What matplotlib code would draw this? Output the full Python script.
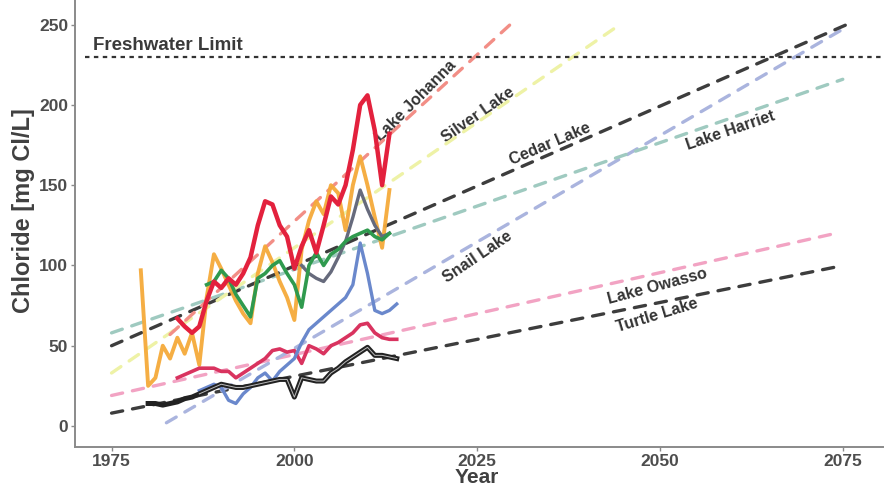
import matplotlib
matplotlib.use("Agg")
import matplotlib.pyplot as plt
import numpy as np

plt.rcParams['font.family'] = ['Liberation Sans', 'DejaVu Sans']

# ---------------- data ----------------
johanna_years = list(range(1984, 2014))
johanna_vals = [67, 62, 58, 62, 78, 90, 86, 92, 88, 95, 105, 125, 140, 138, 125, 118,
                98, 112, 122, 108, 125, 143, 138, 150, 172, 200, 206, 184, 150, 182]

silver_years = list(range(1979, 2014))
silver_vals = [97, 25, 30, 50, 42, 55, 45, 58, 38, 80, 107, 98, 88, 78, 70, 64, 95, 112,
               102, 90, 80, 66, 110, 128, 140, 132, 150, 145, 122, 150, 168, 150, 130, 111, 147]

harriet_years = list(range(1988, 2014))
harriet_vals = [88, 90, 97, 92, 82, 75, 68, 92, 95, 100, 103, 95, 88, 74, 100, 108, 100,
                107, 110, 115, 118, 120, 122, 118, 116, 120]

cedar_years = list(range(2001, 2014))
cedar_vals = [100, 95, 92, 90, 96, 105, 115, 130, 147, 135, 125, 118, 120]

snail_years = list(range(1987, 2015))
snail_vals = [22, 24, 26, 24, 16, 14, 20, 24, 30, 33, 28, 34, 38, 42, 52, 60, 64, 68, 72,
              76, 80, 88, 114, 95, 72, 70, 72, 76]

owasso_years = list(range(1984, 2015))
owasso_vals = [30, 32, 34, 36, 36, 36, 34, 34, 30, 33, 36, 39, 42, 47, 48, 46, 47, 39, 50,
               48, 45, 50, 52, 55, 58, 63, 64, 58, 55, 54, 54]

turtle_years = list(range(1980, 2015))
turtle_vals = [14, 14, 13, 14, 15, 17, 18, 20, 22, 24, 26, 25, 24, 24, 25, 26, 27, 28, 29,
               29, 18, 30, 29, 28, 28, 33, 36, 40, 43, 46, 49, 44, 44, 43, 42]

# trend lines (start year, start value, end year, end value)
trend_names = ['Turtle Lake', 'Lake Owasso', 'Snail Lake', 'Lake Harriet', 'Cedar Lake',
               'Silver Lake', 'Lake Johanna']
trend_x0 = [1975, 1975, 1982.5, 1975, 1975, 1975, 1983]
trend_y0 = [8, 19, 2, 58, 50, 33, 57]
trend_x1 = [2074, 2074, 2075.3, 2075, 2075.5, 2044.5, 2029.5]
trend_y1 = [99, 120, 248, 216, 250, 250, 250]

freshwater_limit = 230

x_ticks = [1975, 2000, 2025, 2050, 2075]
y_ticks = [0, 50, 100, 150, 200, 250]

# label placement (year, value, rotation)
label_texts = ['Lake Johanna', 'Silver Lake', 'Cedar Lake', 'Lake Harriet', 'Snail Lake',
               'Lake Owasso', 'Turtle Lake']
label_x = [2016.6, 2025.1, 2034.9, 2059.6, 2025.0, 2049.6, 2049.6]
label_y = [202.5, 193.8, 176, 184, 105, 87, 69]
label_rot = [45, 35, 23, 19, 34, 15, 17]

# ---------------- figure ----------------
W, H = 886, 488
fig = plt.figure(figsize=(W / 100, H / 100), dpi=100)
ax = fig.add_axes([75 / W, 41 / H, 808 / W, 447 / H])
ax.set_xlim(1970.0, 2080.5)
ax.set_ylim(-13.1, 265.4)

trend_colors = ['#3d3d3d', '#f2a3c3', '#aab4de', '#9fcac0', '#3d3d3d', '#eef2a6', '#f28e86']
for x0, y0, x1, y1, c in zip(trend_x0, trend_y0, trend_x1, trend_y1, trend_colors):
    ax.plot([x0, x1], [y0, y1], color=c, lw=2.4, ls=(0, (3.4, 3.0)),
            solid_capstyle='round', dash_capstyle='round', zorder=2)

ax.axhline(freshwater_limit, xmin=(1971.3 - 1970.0) / 110.5, xmax=1.0, color='#333333',
           lw=1.6, ls=(0, (2.0, 2.0)), zorder=2)
ax.text(1972.5, 232, 'Freshwater Limit', fontsize=13.5, fontweight='bold',
        color='#3a3a3a', ha='left', va='bottom', zorder=2)

for t, x, y, r in zip(label_texts, label_x, label_y, label_rot):
    ax.text(x, y, t, fontsize=11.5, fontweight='bold', color='#333333', rotation=r,
            rotation_mode='anchor', ha='center', va='center', zorder=1.5)

# data lines
ax.plot(silver_years, silver_vals, color='#f5aa3a', lw=2.8, zorder=3, alpha=0.95)
ax.plot(owasso_years, owasso_vals, color='#d9335f', lw=2.6, zorder=3)
ax.plot(snail_years, snail_vals, color='#6a88cc', lw=2.4, zorder=3)
ax.plot(harriet_years, harriet_vals, color='#2f9a4e', lw=2.6, zorder=3.2)
ax.plot(cedar_years, cedar_vals, color='#666a7c', lw=2.4, zorder=3.1)
ax.plot(johanna_years, johanna_vals, color='#e3213d', lw=3.2, zorder=3.3)
ax.plot(turtle_years, turtle_vals, color='#222222', lw=3.6, zorder=3.4,
        solid_joinstyle='round')
ax.plot(turtle_years[7:], turtle_vals[7:], color='#bbbbbb', lw=0.7, zorder=3.5)

# axes styling
for s in ['top', 'right']:
    ax.spines[s].set_visible(False)
for s in ['left', 'bottom']:
    ax.spines[s].set_color('#8a8a8a')
    ax.spines[s].set_linewidth(1.4)

ax.set_xticks(x_ticks)
ax.set_yticks(y_ticks)
ax.tick_params(axis='both', colors='#8a8a8a', length=3, width=1, labelsize=12.5,
               labelcolor='#4d4d4d', pad=2)
for lab in ax.get_xticklabels() + ax.get_yticklabels():
    lab.set_fontweight('bold')

ax.set_xlabel('Year', fontsize=15, fontweight='bold', color='#404040')
ax.xaxis.label.set_va('center')
ax.xaxis.set_label_coords(0.4975, -0.069)
ax.set_ylabel('Chloride [mg Cl/L]', fontsize=17, fontweight='bold', color='#404040')
ax.yaxis.label.set_va('center')
ax.yaxis.set_label_coords(-0.064, 0.53)

fig.savefig('out.png', dpi=100, facecolor='white')
